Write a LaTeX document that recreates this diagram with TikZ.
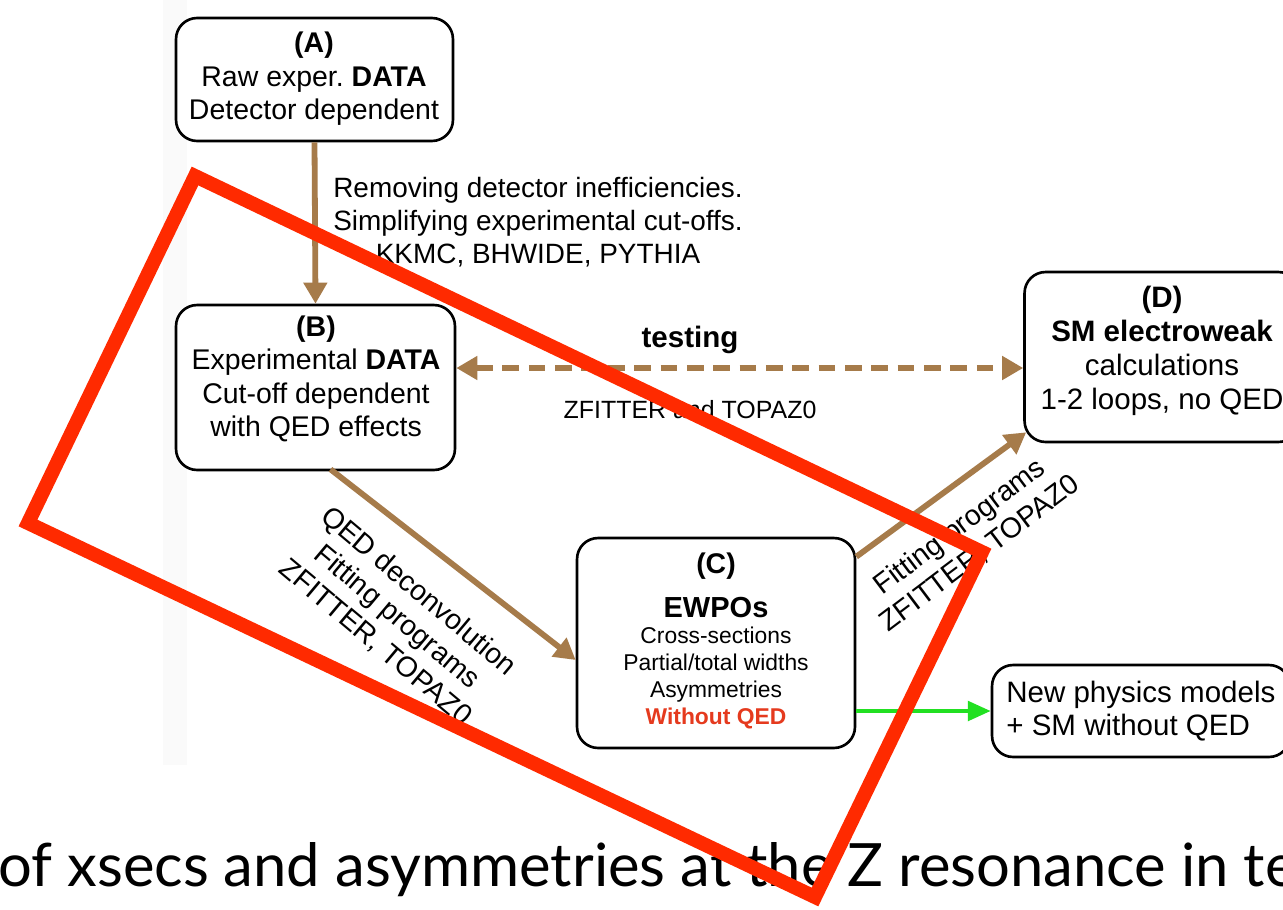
\documentclass[tikz,border=0pt]{standalone}
\usepackage{fontspec}
\setmainfont{Liberation Sans}
\newfontfamily\slidefont{Lato}
\usetikzlibrary{arrows.meta,calc}
\definecolor{brownarr}{HTML}{A67B4A}
\definecolor{redframe}{HTML}{FF2A00}
\definecolor{greenarr}{HTML}{22E022}
\definecolor{redtext}{HTML}{E53A1E}
\definecolor{panelgray}{HTML}{FAFAFA}
\begin{document}
\begin{tikzpicture}[x=0.02cm,y=-0.02cm,
  box/.style={draw=black, line width=1.5pt, rounded corners=12pt, fill=white, inner sep=0pt},
  txt/.style={align=center, inner sep=0pt, font=\fontsize{16.2}{19}\selectfont},
  smalltxt/.style={align=center, inner sep=0pt, font=\fontsize{13}{15.2}\selectfont},
  brownarrow/.style={draw=brownarr, line width=3.3pt, -{Triangle[length=12pt,width=13pt]}},
  dasharrow/.style={draw=brownarr, line width=3.3pt, dash pattern=on 9.5pt off 5.5pt,
     {Triangle[length=12pt,width=13pt]}-{Triangle[length=12pt,width=13pt]}},
  greenarrow/.style={draw=greenarr, line width=2.4pt, -{Triangle[length=13pt,width=11pt]}},
  frame/.style={draw=redframe, line width=8pt, line join=miter}
]
\path[use as bounding box, clip] (0,0) rectangle (1283,909);
\fill[white] (0,0) rectangle (1283,909);
\fill[panelgray] (163,0) rectangle (187,765);

% boxes
\node[box, minimum width=5.54cm, minimum height=2.46cm] (A) at (314.5,79.5) {};
\node[box, minimum width=5.58cm, minimum height=3.30cm] (B) at (315.5,387.5) {};
\node[box, minimum width=5.56cm, minimum height=4.20cm] (C) at (716,643) {};
\node[box, minimum width=5.50cm, minimum height=3.40cm] (D) at (1162,357) {};
\node[box, minimum width=5.96cm, minimum height=1.84cm] (E) at (1141,711) {};

% box texts
\node[txt] (Atxt) at (314,79) {\bfseries (A)\\Raw exper.\ \textbf{DATA}\\Detector dependent};
\node[txt] (Btxt) at (316,379) {\bfseries (B)\\Experimental \textbf{DATA}\\Cut-off dependent\\with QED effects};
\node[txt, font=\fontsize{16.8}{19.4}\selectfont] (Dtxt) at (1162,351) {\bfseries (D)\\\bfseries SM electroweak\\calculations\\1-2 loops, no QED};
\node[txt, anchor=base] (Ctitle) at (716,573) {\bfseries (C)};
\node[txt, anchor=base, font=\fontsize{16.5}{19}\selectfont\bfseries] (Cname) at (716,617) {EWPOs};
\node[smalltxt] (Clist) at (716,678) {Cross-sections\\Partial/total widths\\Asymmetries\\\textcolor{redtext}{\bfseries Without QED}};
\node[txt, align=left, anchor=west, font=\fontsize{16.8}{19.2}\selectfont] (Etxt) at (1006,711) {New physics models\\+ SM without QED};

% connectors
\draw[brownarrow] (A.south) -- (B.north);
\coordinate (tst) at (690,368);
\draw[dasharrow] (B.east |- tst) -- (D.west |- tst);
\draw[brownarrow] ($(B.south)+(15,-2)$) -- ($(C.west)+(0,17)$);
\draw[brownarrow] ($(C.north east)+(0,20)$) -- ($(D.south west)+(3,-11)$);
\draw[greenarrow] (C.east |- E.west) -- (E.west);

% connector labels
\node[txt, font=\fontsize{15.9}{18.7}\selectfont] (lab1) at (538,222) {Removing detector inefficiencies.\\Simplifying experimental cut-offs.\\KKMC, BHWIDE, PYTHIA};
\node[txt, font=\fontsize{16.8}{19}\selectfont\bfseries] (lab2) at (690,340) {testing};
\node[txt, font=\fontsize{14.2}{17}\selectfont] (lab3) at (690,410) {ZFITTER and TOPAZ0};
\node[txt, rotate=-40] (lab4) at (397,617) {QED deconvolution\\Fitting programs\\ZFITTER, TOPAZ0};
\node[txt, rotate=37] (lab5) at (970,540) {Fitting programs\\ZFITTER, TOPAZ0};

% slide caption
\node[anchor=base west, inner sep=0pt, font=\slidefont\fontsize{34}{40}\selectfont] (cap) at (-2,886) {\spaceskip=0.25em\relax of xsecs and asymmetries at the Z resonance in terms};

% red frame
\draw[frame] (195,176) -- (982,552) -- (815,897) -- (28,523) -- cycle;
\end{tikzpicture}
\end{document}
